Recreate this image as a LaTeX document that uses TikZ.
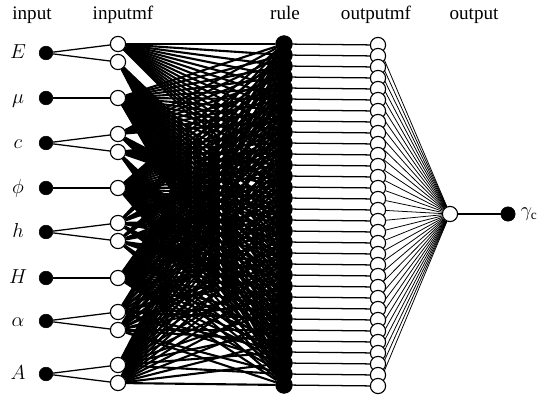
\documentclass[tikz,border=0pt]{standalone}
\usepackage{fontspec}
\setmainfont{Liberation Serif}
\usetikzlibrary{positioning,backgrounds}
\tikzset{
  innode/.style={circle,minimum size=3.4mm,inner sep=0pt,draw=black,fill=black},
  mfnode/.style={circle,minimum size=3.8mm,inner sep=0pt,draw=black,fill=white,line width=.8pt},
  rulenode/.style={circle,minimum size=4.2mm,inner sep=0pt,draw=black,fill=black},
  inwire/.style={line width=.9pt,color=black},
  rulewire/.style={line width=1.5pt,color=black},
  outwire/.style={line width=.9pt,color=black},
  sumwire/.style={line width=.55pt,color=black},
  head/.style={font=\fontsize{13.6}{16}\selectfont,anchor=base,inner sep=0pt},
  varlabel/.style={font=\fontsize{13.6}{16}\selectfont,anchor=base,inner sep=0pt},
}

\begin{document}
\begin{tikzpicture}[x=0.025cm,y=0.025cm]
  \useasboundingbox (0,0) rectangle (551,403);
  \node[head] (hinput) at (32,383) {input};
  \node[head] (hinputmf) at (123,383) {inputmf};
  \node[head] (hrule) at (285,383) {rule};
  \node[head] (houtputmf) at (376,383) {outputmf};
  \node[head] (houtput) at (474,383) {output};

  \foreach \lab/\py/\n [count=\i] in {E/53/2,\mu/98/1,c/143/2,\phi/188/1,h/232/2,H/278/1,\alpha/321/2,A/374/2}{
    \node[varlabel] (lab\i) at (18,{398-\py}) {$\lab$};
    \node[innode] (in\i) at (46,{403-\py}) {};
    \foreach \k in {1,...,\n}{
      \node[mfnode] (mf\i-\k) at (118,{403-\py+(\n-1)*(3-2*\k)*9}) {};
      \draw[inwire] (in\i) -- (mf\i-\k);
    }
  }

  \foreach \r in {0,...,31}{
    \node[rulenode] (rule\r) at (284,{359-11*\r}) {};
    \node[mfnode] (omf\r) at (378,{358-11*\r}) {};
  }
  \node[mfnode] (out) at (450,189) {};
  \node[innode,minimum size=3.6mm] (y) at (508,189) {};
  \node[varlabel,anchor=west,right=1.2mm of y] (ylab) {$\gamma_{\mathrm{c}}$};
  \draw[outwire] (out) -- (y);

  \begin{scope}[on background layer]
    \foreach \r in {0,...,31}{
      \foreach \i/\d in {1/16,2/64,3/8,4/64,5/4,6/64,7/2,8/1}{
        \pgfmathtruncatemacro{\k}{mod(floor(\r/\d),2)+1}
        \draw[rulewire] (mf\i-\k) -- (rule\r);
      }
      \draw[outwire] (rule\r) -- (omf\r);
      \draw[sumwire] (omf\r) -- (out);
    }
  \end{scope}
\end{tikzpicture}
\end{document}
